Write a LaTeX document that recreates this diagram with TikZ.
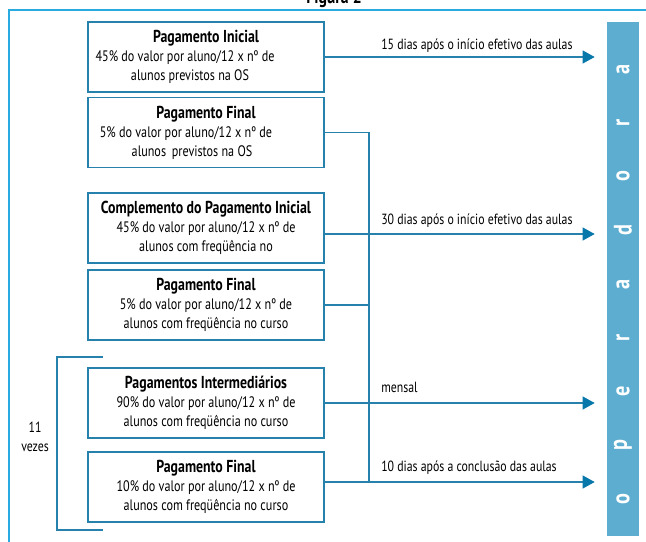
\documentclass[tikz,border=0pt]{standalone}
\usepackage{fontspec}
\setmainfont[FakeStretch=0.8]{PT Sans}
\usetikzlibrary{arrows.meta}
\definecolor{moldura}{RGB}{41,171,226}
\definecolor{linha}{RGB}{38,130,172}
\definecolor{ponta}{RGB}{8,120,170}
\definecolor{barra}{RGB}{92,173,207}
\newcommand{\titulo}[1]{{\bfseries\fontsize{12.3}{13.5}\selectfont #1}}
\newcommand{\recuo}[1]{\rule{#1}{0pt}}
\tikzset{
    pagto/.style={draw=linha,line width=1.1pt,minimum width=5.9cm,minimum height=1.75cm,
        inner sep=0pt,align=center,font=\fontsize{10.8}{13.5}\selectfont,
        execute at begin node={\rule{0pt}{12.5pt}}},
    liga/.style={draw=linha,line width=1.1pt},
    seta/.style={liga,-{Triangle[length=0.3cm,width=0.32cm,color=ponta]},shorten >=0.3cm},
    prazo/.style={anchor=base west,inner sep=0pt,font=\fontsize{10.5}{13.5}\selectfont},
    letra/.style={text=white,rotate=90,font=\bfseries\fontsize{18}{20}\selectfont},
}

\begin{document}
\begin{tikzpicture}[x=0.025cm,y=-0.025cm]
\useasboundingbox (0,0) rectangle (646,541);
\node[font=\bfseries\fontsize{14}{16}\selectfont,anchor=base] (fig) at (334,3) {Figura 2};
\draw[moldura,line width=1.5pt] (9,545) -- (9,10) -- (650,10);
% operadora
\node[fill=barra,minimum width=0.8cm,minimum height=12.85cm,inner sep=0pt] (op) at (623,279) {};
\foreach \l [count=\i from 0] in {o,p,e,r,a,d,o,r,a}
    \node[letra] (l\i) at (623,499-53.75*\i) {\l};
% pagamentos
\node[pagto] (c1) at (206,57) {\titulo{Pagamento Inicial}\\45\% do valor por aluno/12 x nº de\recuo{1.05cm}\\alunos previstos na OS\recuo{0.8cm}};
\node[pagto] (c2) at (206,132.5) {\titulo{Pagamento Final}\\5\% do valor por aluno/12 x nº de\recuo{1.0cm}\\alunos\, previstos na OS\recuo{0.7cm}};
\node[pagto] (c3) at (206,228) {\titulo{Complemento do Pagamento Inicial}\\45\% do valor por aluno/12 x nº de\\alunos com freqüência no};
\node[pagto] (c4) at (206,305) {\titulo{Pagamento Final}\\5\% do valor por aluno/12 x nº de\\alunos com freqüência no curso};
\node[pagto] (c5) at (206,403) {\titulo{Pagamentos Intermediários}\\90\% do valor por aluno/12 x nº de\\alunos com freqüência no curso};
\node[pagto] (c6) at (206,487) {\titulo{Pagamento Final}\\10\% do valor por aluno/12 x nº de\\alunos com freqüência no curso};
% ligacoes
\coordinate (bus) at (369,0);
\coordinate (c3e) at ([yshift=-0.15cm]c3.east);
\coordinate (c6e) at ([yshift=0.125cm]c6.east);
\draw[liga] (c2.east) -- (c2.east -| bus) -- (bus |- c6e);
\draw[liga] (c4.east) -- (c4.east -| bus);
\draw[seta] (c1.east) -- (c1.east -| op.west);
\draw[seta] (c3e) -- (c3e -| op.west);
\draw[seta] (c5.east) -- (c5.east -| op.west);
\draw[seta] (c6e) -- (c6e -| op.west);
\node[prazo] (p1) at (381,49) {15 dias após o início efetivo das aulas};
\node[prazo] (p2) at (381,224) {30 dias após o início efetivo das aulas};
\node[prazo] (p3) at (381,392) {mensal};
\node[prazo] (p4) at (381,471) {10 dias após a conclusão das aulas};
% 11 vezes
\coordinate (ch1) at (103,357);
\coordinate (ch2) at (103,530);
\draw[liga] (ch1) -- (57,357) -- (57,530) -- (ch2);
\node[align=center,font=\fontsize{10.5}{13.5}\selectfont] (vz) at (35,437) {11\\vezes};
\end{tikzpicture}
\end{document}
